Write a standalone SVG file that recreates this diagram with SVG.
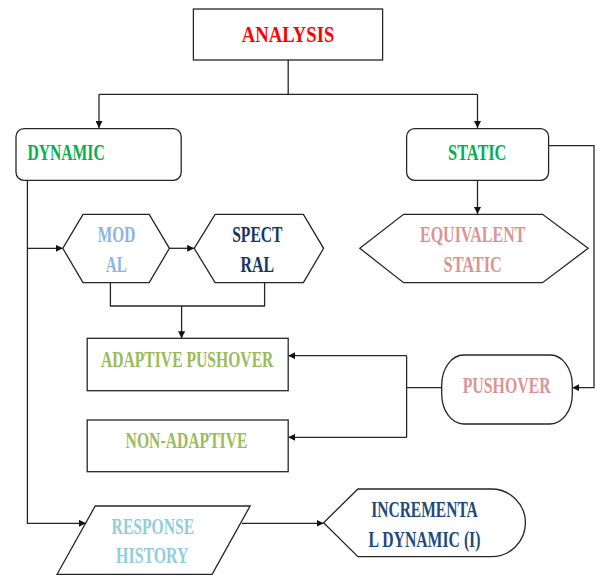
<svg xmlns="http://www.w3.org/2000/svg" width="597" height="576" viewBox="0 0 597 576">
<defs>
<style>
.box{fill:#fff;stroke:#262626;stroke-width:1.3}
.ln{fill:none;stroke:#262626;stroke-width:1.3}
.t{font-family:"Liberation Serif","Times New Roman",serif;font-weight:bold;font-size:24px}
</style>
<marker id="ah" viewBox="0 0 10 10" refX="10" refY="5" markerWidth="7" markerHeight="7" markerUnits="userSpaceOnUse" orient="auto">
<path d="M0,0 L10,5 L0,10 z" fill="#111"/>
</marker>
</defs>
<rect width="597" height="576" fill="#fff"/>
<g id="connectors" class="ln">
<path d="M288.2,60 V94.3 M99,94.3 H477.5"/>
<path d="M99,94.3 V128" marker-end="url(#ah)"/>
<path d="M477.5,94.3 V128" marker-end="url(#ah)"/>
<path d="M548.6,145.7 H594 V387.7 H572.3" marker-end="url(#ah)"/>
<path d="M477.5,180.3 V214" marker-end="url(#ah)"/>
<path d="M27.4,180.3 V523.3 H86" marker-end="url(#ah)"/>
<path d="M27.4,248.3 H62.8" marker-end="url(#ah)"/>
<path d="M169.4,248.3 H194.2" marker-end="url(#ah)"/>
<path d="M110.4,282.7 V306 H264.6 V282.7"/>
<path d="M181.6,306 V338.3" marker-end="url(#ah)"/>
<path d="M441.7,387.7 H406.6"/>
<path d="M406.6,355.7 V437.3"/>
<path d="M406.6,355.7 H288.2" marker-end="url(#ah)"/>
<path d="M406.6,437.3 H288.2" marker-end="url(#ah)"/>
<path d="M241.8,523.3 H323.6" marker-end="url(#ah)"/>
</g>
<g id="analysis">
<rect class="box" x="193.4" y="9" width="189.2" height="51"/>
<text class="t" x="241.8" y="42" font-size="27" textLength="92.5" lengthAdjust="spacingAndGlyphs" fill="#ff0000">ANALYSIS</text>
</g>
<g id="dynamic">
<rect class="box" x="16" y="128.7" width="165.2" height="51.6" rx="8"/>
<text class="t" x="27.4" y="160" textLength="77.3" lengthAdjust="spacingAndGlyphs" fill="#00b050">DYNAMIC</text>
</g>
<g id="static">
<rect class="box" x="406.6" y="128.7" width="142" height="51.6" rx="8"/>
<text class="t" x="448.1" y="160" textLength="58.3" lengthAdjust="spacingAndGlyphs" fill="#00b050">STATIC</text>
</g>
<g id="modal">
<polygon class="box" points="62.8,248.3 83,214.3 149.2,214.3 169.4,248.3 149.2,282.7 83,282.7"/>
<text class="t" x="97.8" y="242.3" textLength="37.4" lengthAdjust="spacingAndGlyphs" fill="#8db3e2">MOD</text>
<text class="t" x="105.8" y="272.3" textLength="21" lengthAdjust="spacingAndGlyphs" fill="#8db3e2">AL</text>
</g>
<g id="spectral">
<polygon class="box" points="194.2,248.3 215.1,214.3 303.4,214.3 323.6,248.3 303.4,282.7 215.1,282.7"/>
<text class="t" x="232.2" y="242.3" textLength="50.3" lengthAdjust="spacingAndGlyphs" fill="#17365d">SPECT</text>
<text class="t" x="240.6" y="272.3" textLength="33.5" lengthAdjust="spacingAndGlyphs" fill="#17365d">RAL</text>
</g>
<g id="equivalent-static">
<polygon class="box" points="359.8,248.3 403.6,214.3 542.5,214.3 588.2,248.3 542.5,282.7 403.6,282.7"/>
<text class="t" x="420" y="242.3" textLength="105.4" lengthAdjust="spacingAndGlyphs" fill="#d99594">EQUIVALENT</text>
<text class="t" x="443.6" y="272.3" textLength="58.2" lengthAdjust="spacingAndGlyphs" fill="#d99594">STATIC</text>
</g>
<g id="adaptive-pushover">
<rect class="box" x="87.2" y="338.3" width="201" height="52.4"/>
<text class="t" x="100.9" y="366.7" textLength="172.5" lengthAdjust="spacingAndGlyphs" fill="#9bbb59">ADAPTIVE PUSHOVER</text>
</g>
<g id="pushover">
<rect class="box" x="441.7" y="355" width="130.6" height="69" rx="22" ry="30"/>
<text class="t" x="462.7" y="393.3" textLength="88" lengthAdjust="spacingAndGlyphs" fill="#d99594">PUSHOVER</text>
</g>
<g id="non-adaptive">
<rect class="box" x="87.2" y="420" width="201" height="51.7"/>
<text class="t" x="125.6" y="448.3" textLength="121.9" lengthAdjust="spacingAndGlyphs" fill="#9bbb59">NON-ADAPTIVE</text>
</g>
<g id="response-history">
<polygon class="box" points="95.2,506 250.1,506 212.1,574.3 57.1,574.3"/>
<text class="t" x="111.6" y="534" textLength="82.6" lengthAdjust="spacingAndGlyphs" fill="#92cddc">RESPONSE</text>
<text class="t" x="116.1" y="563.3" textLength="72.4" lengthAdjust="spacingAndGlyphs" fill="#92cddc">HISTORY</text>
</g>
<g id="incremental-dynamic">
<path class="box" d="M323.6,522.8 L357.9,489 H491.4 A34,33.85 0 0 1 491.4,556.7 H357.9 Z"/>
<text class="t" x="371.2" y="516.7" textLength="106.6" lengthAdjust="spacingAndGlyphs" fill="#1f497d">INCREMENTA</text>
<text class="t" x="368.6" y="546.7" textLength="111.9" lengthAdjust="spacingAndGlyphs" fill="#1f497d">L DYNAMIC (I)</text>
</g>
</svg>
